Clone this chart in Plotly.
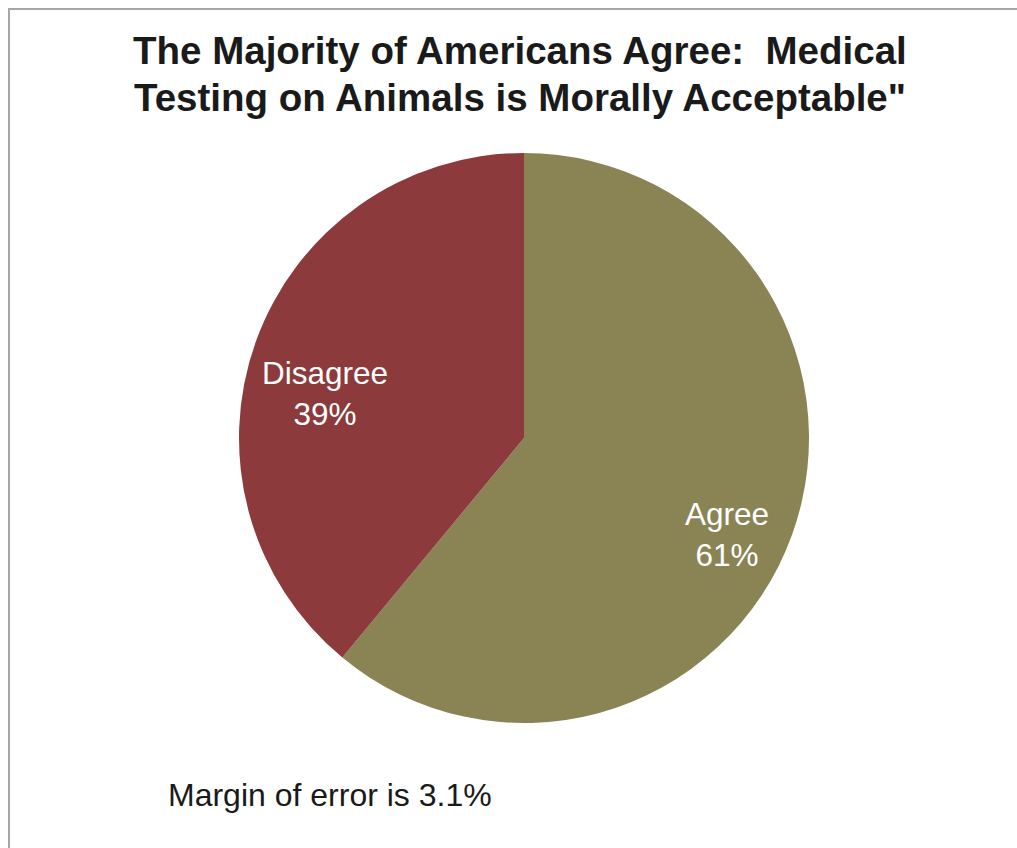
import plotly.graph_objects as go

# Survey responses
categories = ["Agree", "Disagree"]
shares = [61, 39]
slice_colors = ["#8a8455", "#8c3a3c"]

title_lines = [
    "The Majority of Americans Agree:  Medical",
    "Testing on Animals is Morally Acceptable\"",
]
note_text = "Margin of error is 3.1%"

W, H = 1017, 848
cx, cy, r = 524, 438, 285  # pie centre and radius in pixels


def px_x(x):
    return x / W


def px_y(y):
    return 1 - y / H


fig = go.Figure(
    go.Pie(
        labels=categories,
        values=shares,
        sort=False,
        direction="clockwise",
        rotation=0,
        marker=dict(colors=slice_colors, line=dict(width=0)),
        textinfo="none",
        hoverinfo="label+percent",
        showlegend=False,
        domain=dict(x=[px_x(cx - r), px_x(cx + r)], y=[px_y(cy + r), px_y(cy - r)]),
    )
)

font_family = "Liberation Sans, Arial, sans-serif"

# In-slice labels: name and share
label_pos = {"Agree": (727, 534), "Disagree": (325, 393)}
annotations = []
for name, val in zip(categories, shares):
    x, y = label_pos[name]
    annotations.append(
        dict(
            text=f"{name}<br>{val}%",
            x=px_x(x), y=px_y(y), xref="paper", yref="paper",
            xanchor="center", yanchor="middle", showarrow=False,
            font=dict(family=font_family, size=31.5, color="white"),
        )
    )

annotations.append(
    dict(
        text=note_text, x=px_x(166), y=px_y(815), xref="paper", yref="paper",
        xanchor="left", yanchor="bottom", showarrow=False,
        font=dict(family=font_family, size=32, color="#1a1a1a"),
    )
)

# Two-line bold heading, each line placed on its own
for line, yc in zip(title_lines, (50, 97)):
    annotations.append(
        dict(
            text=f"<b>{line}</b>", x=px_x(520), y=px_y(yc), xref="paper", yref="paper",
            xanchor="center", yanchor="middle", showarrow=False,
            font=dict(family=font_family, size=38.5, color="#1a1a1a"),
        )
    )

fig.update_layout(
    width=W, height=H,
    margin=dict(l=0, r=0, t=0, b=0),
    paper_bgcolor="white",
    plot_bgcolor="white",
    annotations=annotations,
    shapes=[
        dict(
            type="rect", xref="paper", yref="paper",
            x0=px_x(9), y0=-0.02, x1=1.02, y1=px_y(9),
            line=dict(color="#a6a6a6", width=2), fillcolor="rgba(0,0,0,0)",
        )
    ],
)

fig.write_html("out.html")
